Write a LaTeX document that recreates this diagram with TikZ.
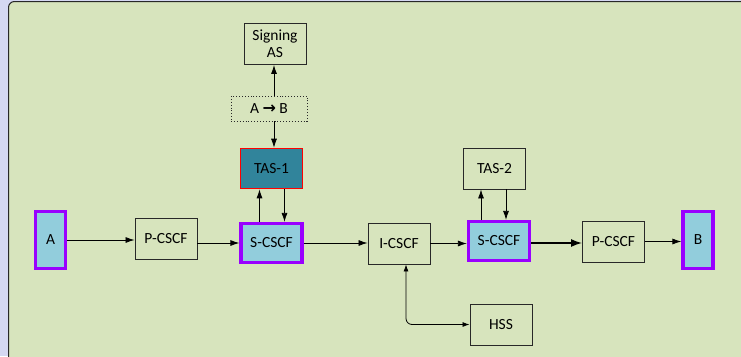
\documentclass[tikz,border=0pt]{standalone}
\usepackage{fontspec}
\setmainfont{Carlito}
\newfontfamily\symf{DejaVu Sans}
\usetikzlibrary{arrows.meta}
\definecolor{panel}{RGB}{215,228,189}
\definecolor{outer}{RGB}{213,216,242}
\definecolor{teal}{RGB}{49,132,155}
\definecolor{lblue}{RGB}{146,205,220}
\definecolor{purp}{RGB}{153,0,255}
\definecolor{edge}{RGB}{40,40,40}
\tikzset{
  box/.style={draw=edge, line width=0.9pt, minimum width=62pt, minimum height=41pt, inner sep=0pt, align=center, font=\fontsize{15.5}{17}\selectfont},
  ue/.style={box, fill=lblue, draw=purp, line width=3.2pt, minimum width=30pt, minimum height=57pt},
  scscf/.style={box, fill=lblue, draw=purp, line width=3.2pt, minimum width=61pt, minimum height=39pt},
  tas/.style={box, fill=teal, draw=red, line width=1.6pt, minimum width=62pt, minimum height=40pt},
  dotbox/.style={box, dotted, minimum width=76pt, minimum height=25pt},
  arr/.style={-{Latex[length=9pt,width=6pt]}, line width=0.8pt, draw=black},
  thickarr/.style={-{Latex[length=11pt,width=8pt]}, line width=1.6pt, draw=black},
  dblarr/.style={{Latex[length=7pt,width=5pt]}-{Latex[length=7pt,width=5pt]}, line width=0.8pt, draw=black, rounded corners=6pt}
}
\begin{document}
\begin{tikzpicture}[x=1pt,y=-1pt]
\useasboundingbox (0,0) rectangle (741,356);
\fill[outer] (0,0) rectangle (741,356);
\fill[panel, rounded corners=6pt] (8.5,1.5) rectangle (760,375);
\draw[edge, line width=1pt, rounded corners=6pt] (8.5,375) -- (8.5,1.5) -- (760,1.5);

\node[box] (sign) at (275,44) {Signing\\AS};
\node[dotbox] (ab) at (269,108.5) {A {\symf\fontsize{16}{17}\selectfont\bfseries →} B};
\node[tas] (tas1) at (271.5,168.5) {TAS-1};
\node[scscf] (s1) at (271.5,243) {S-CSCF};
\node[ue] (A) at (50.5,240) {A};
\node[box] (p1) at (166,238.5) {P-CSCF};
\node[box] (ic) at (399,243.5) {I-CSCF};
\node[box] (tas2) at (494.5,168.5) {TAS-2};
\node[scscf] (s2) at (499,241) {S-CSCF};
\node[box] (p2) at (613.5,241.5) {P-CSCF};
\node[ue] (B) at (698,240) {B};
\node[box] (hss) at (501,324.5) {HSS};

\draw[arr] ([xshift=5pt]ab.north) -- ([xshift=-1pt]sign.south);
\draw[arr] ([xshift=5pt]ab.south) -- ([xshift=5pt]ab.south |- tas1.north);
\draw[arr] ([xshift=-12pt]s1.north) -- ([xshift=-12pt]tas1.south);
\draw[arr] ([xshift=13pt]tas1.south) -- ([xshift=13pt]s1.north);
\draw[arr] ([xshift=-18pt]s2.north) -- ([xshift=-18pt]s2.north |- tas2.south);
\draw[arr] ([xshift=7pt]s2.north |- tas2.south) -- ([xshift=7pt]s2.north);

\draw[arr] (A.east) -- (A.east -| p1.west);
\draw[arr] (p1.east |- s1.west) -- (s1.west);
\draw[arr] (s1.east) -- (s1.east -| ic.west);
\draw[arr] (ic.east) -- (ic.east -| s2.west);
\draw[thickarr] ([yshift=-2pt]s2.east) -- ([yshift=-2pt]s2.east -| p2.west);
\draw[arr] (p2.east) -- (p2.east -| B.west);
\draw[dblarr] ([xshift=7pt]ic.south) |- (hss.west);
\end{tikzpicture}
\end{document}
